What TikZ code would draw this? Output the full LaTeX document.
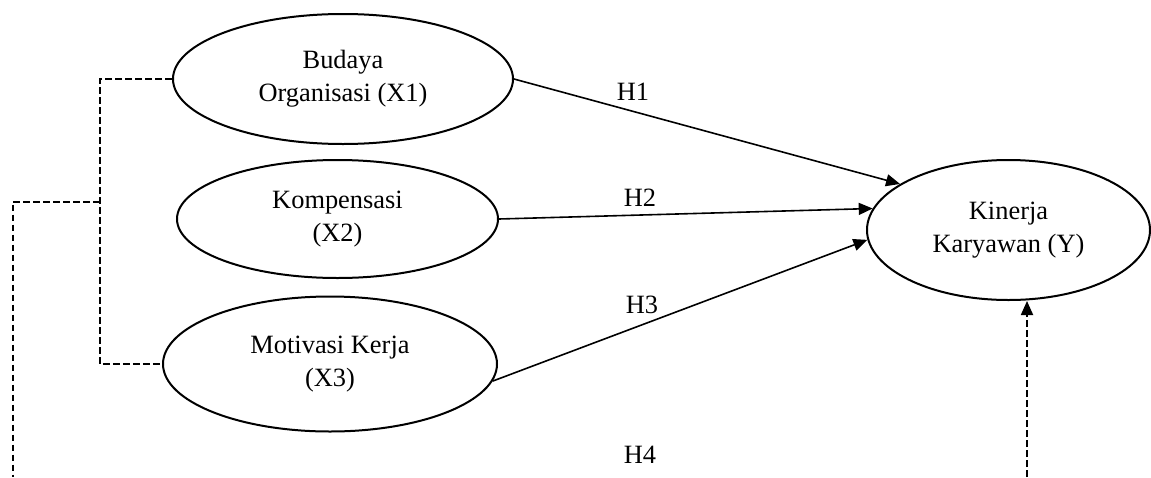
\documentclass[tikz,border=0pt]{standalone}
\usepackage{fontspec}
\setmainfont{Liberation Serif}
\usetikzlibrary{arrows.meta,shapes.geometric}

\begin{document}
\begin{tikzpicture}[
  x=0.5pt, y=-0.5pt,
  var/.style={draw, ellipse, line width=1pt, inner sep=0pt, align=center, font=\fontsize{13.2}{16.5}\selectfont},
  hyp/.style={font=\fontsize{13.2}{16.5}\selectfont},
  arr/.style={-{Triangle[length=7pt,width=6pt]}, line width=0.8pt},
  dashln/.style={dash pattern=on 3.3pt off 1.7pt, line width=0.9pt},
  dasharr/.style={dashln, -{Triangle[length=7pt,width=6pt]}}
]
\useasboundingbox (0,0) rectangle (1151,477);

\node[var, minimum width=170pt, minimum height=65pt] (x1) at (343,79) {Budaya\\Organisasi (X1)};
\node[var, minimum width=160.5pt, minimum height=59pt] (x2) at (337.5,219) {Kompensasi\\(X2)};
\node[var, minimum width=167pt, minimum height=67.5pt] (x3) at (330,364) {Motivasi Kerja\\(X3)};
\node[var, minimum width=141.5pt, minimum height=70pt] (y) at (1008.5,230) {Kinerja\\Karyawan (Y)};

\draw[arr] (x1.east) -- (y.157);
\draw[arr] (x2.east) -- (y.171);
\draw[arr] (x3.-6) -- (y.184);

\node[hyp] (h1) at (633,92) {H1};
\node[hyp] (h2) at (640,198) {H2};
\node[hyp] (h3) at (642,305) {H3};
\node[hyp] (h4) at (640,455) {H4};

% dashed links on the left
\coordinate (jn) at (100,202);
\coordinate (lftend) at (12.7,477);
\draw[dashln] (x1.west) -| (jn) |- (x3.west);
\draw[dashln] (jn) -| (lftend);

% dashed arrow into Y from below
\coordinate (yfoot) at (1027,477);
\draw[dasharr] (yfoot) -- (yfoot |- y.south);

\end{tikzpicture}
\end{document}
